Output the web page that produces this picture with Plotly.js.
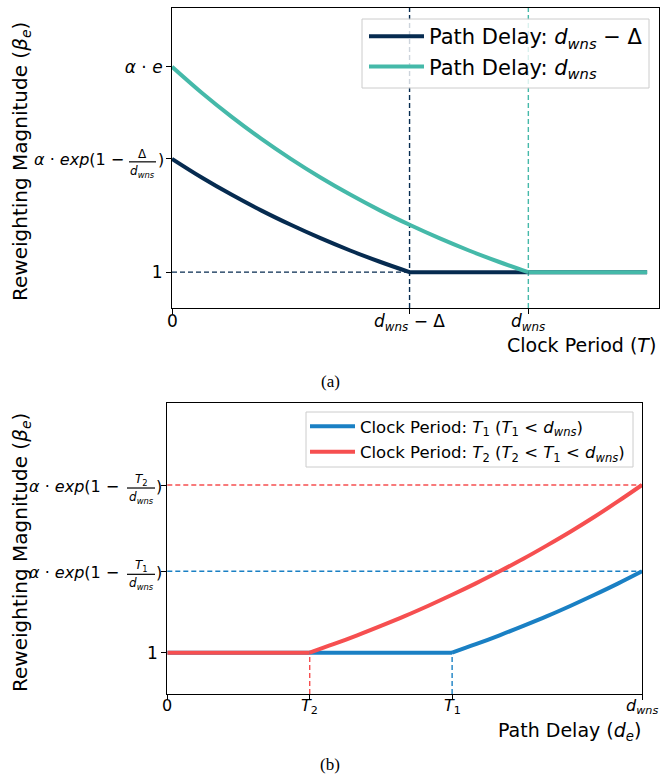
<!DOCTYPE html>
<html>
<head>
<meta charset="utf-8">
<script src="https://cdn.plot.ly/plotly-3.0.1.min.js"></script>
<style>html,body{margin:0;padding:0;background:#fff;}#chart{width:660px;height:778px;}</style>
</head>
<body>
<div id="chart"></div>
<script>
// ---------- Panel (a): reweighting vs clock period ----------
const aTickVals = [0, 2, 3];
const aTickText = ['0', '<i>d</i><sub><i>wns</i></sub> − Δ', '<i>d</i><sub><i>wns</i></sub>'];
const aYTickVals = [1, 1.948, 2.718];
const aYTickText = ['1', '', '<i>α</i> · <i>e</i>'];

// Path delay d_wns − Δ
const darkCurveT    = [0, 0.25, 0.5, 0.75, 1, 1.25, 1.5, 1.75, 2];
const darkCurveBeta = [1.948, 1.792, 1.649, 1.517, 1.396, 1.284, 1.181, 1.087, 1.0];
const darkFlatT     = [2, 4];
const darkFlatBeta  = [1.0, 1.0];
// Path delay d_wns
const tealCurveT    = [0, 0.25, 0.5, 0.75, 1, 1.25, 1.5, 1.75, 2, 2.25, 2.5, 2.75, 3];
const tealCurveBeta = [2.718, 2.501, 2.301, 2.117, 1.948, 1.792, 1.649, 1.517, 1.396, 1.284, 1.181, 1.087, 1.0];
const tealFlatT     = [3, 4];
const tealFlatBeta  = [1.0, 1.0];
// reference markers
const aKneeT = [2, 3];          // d_wns − Δ, d_wns
const aFloorBeta = 1;

// ---------- Panel (b): reweighting vs path delay ----------
const bTickVals = [0, 0.9, 1.8, 3];
const bTickText = ['0', '<i>T</i><sub>2</sub>', '<i>T</i><sub>1</sub>', '<i>d</i><sub><i>wns</i></sub>'];
const bYTickVals = [1, 1.492, 2.014];
const bYTickText = ['1', '', ''];

// Clock period T1
const blueFlatD     = [0, 1.8];
const blueFlatBeta  = [1, 1];
const blueCurveD    = [1.8, 1.95, 2.1, 2.25, 2.4, 2.55, 2.7, 2.85, 3.0];
const blueCurveBeta = [1, 1.051, 1.105, 1.162, 1.221, 1.284, 1.350, 1.419, 1.492];
// Clock period T2
const redFlatD      = [0, 0.9];
const redFlatBeta   = [1, 1];
const redCurveD     = [0.9, 1.05, 1.2, 1.35, 1.5, 1.65, 1.8, 1.95, 2.1, 2.25, 2.4, 2.55, 2.7, 2.85, 3.0];
const redCurveBeta  = [1, 1.051, 1.105, 1.162, 1.221, 1.284, 1.350, 1.419, 1.492, 1.568, 1.649, 1.733, 1.822, 1.916, 2.014];
const bKneeD   = [1.8, 0.9];       // T1, T2
const bLevelBeta = [1.492, 2.014]; // T1 level, T2 level
const bYMin = 0.75;

// ---------- styling ----------
const W = 660, H = 778;
const C_DARK = '#062b50', C_TEAL = '#45b9a9', C_BLUE = '#1a80c4', C_RED = '#f64f50';
const FONT = 'DejaVu Sans, sans-serif';
const px = v => v / W;
const py = v => 1 - v / H;

const LW = 4;
const traces = [
  {x: darkCurveT, y: darkCurveBeta, xaxis: 'x', yaxis: 'y', mode: 'lines', line: {color: C_DARK, width: LW, shape: 'spline', smoothing: 1},
   name: 'Path Delay: <i>d</i><sub><i>wns</i></sub> − Δ', legend: 'legend', legendgroup: 'dark'},
  {x: darkFlatT, y: darkFlatBeta, xaxis: 'x', yaxis: 'y', mode: 'lines', line: {color: C_DARK, width: LW},
   showlegend: false, legend: 'legend', legendgroup: 'dark'},
  {x: tealCurveT, y: tealCurveBeta, xaxis: 'x', yaxis: 'y', mode: 'lines', line: {color: C_TEAL, width: LW, shape: 'spline', smoothing: 1},
   name: 'Path Delay: <i>d</i><sub><i>wns</i></sub>', legend: 'legend', legendgroup: 'teal'},
  {x: tealFlatT, y: tealFlatBeta, xaxis: 'x', yaxis: 'y', mode: 'lines', line: {color: C_TEAL, width: LW},
   showlegend: false, legend: 'legend', legendgroup: 'teal'},

  {x: blueFlatD, y: blueFlatBeta, xaxis: 'x2', yaxis: 'y2', mode: 'lines', line: {color: C_BLUE, width: LW},
   showlegend: false, legend: 'legend2', legendgroup: 'blue'},
  {x: blueCurveD, y: blueCurveBeta, xaxis: 'x2', yaxis: 'y2', mode: 'lines', line: {color: C_BLUE, width: LW, shape: 'spline', smoothing: 1},
   name: 'Clock Period: <i>T</i><sub>1</sub> (<i>T</i><sub>1</sub> < <i>d</i><sub><i>wns</i></sub>)', legend: 'legend2', legendgroup: 'blue'},
  {x: redFlatD, y: redFlatBeta, xaxis: 'x2', yaxis: 'y2', mode: 'lines', line: {color: C_RED, width: LW},
   showlegend: false, legend: 'legend2', legendgroup: 'red'},
  {x: redCurveD, y: redCurveBeta, xaxis: 'x2', yaxis: 'y2', mode: 'lines', line: {color: C_RED, width: LW, shape: 'spline', smoothing: 1},
   name: 'Clock Period: <i>T</i><sub>2</sub> (<i>T</i><sub>2</sub> < <i>T</i><sub>1</sub> < <i>d</i><sub><i>wns</i></sub>)', legend: 'legend2', legendgroup: 'red'}
];

const dash = '5px,3px';
const DW = 1.4;
const shapes = [
  // panel a
  {type: 'line', xref: 'x', yref: 'y', x0: 0, x1: aKneeT[0], y0: aFloorBeta, y1: aFloorBeta, line: {color: C_DARK, width: DW, dash: dash}, layer: 'below'},
  {type: 'line', xref: 'x', yref: 'y domain', x0: aKneeT[0], x1: aKneeT[0], y0: 0, y1: 1, line: {color: C_DARK, width: DW, dash: dash}, layer: 'below'},
  {type: 'line', xref: 'x', yref: 'y domain', x0: aKneeT[1], x1: aKneeT[1], y0: 0, y1: 1, line: {color: C_TEAL, width: DW, dash: dash}, layer: 'below'},
  // panel b
  {type: 'line', xref: 'x2 domain', yref: 'y2', x0: 0, x1: 1, y0: bLevelBeta[0], y1: bLevelBeta[0], line: {color: C_BLUE, width: DW, dash: dash}, layer: 'below'},
  {type: 'line', xref: 'x2 domain', yref: 'y2', x0: 0, x1: 1, y0: bLevelBeta[1], y1: bLevelBeta[1], line: {color: C_RED, width: DW, dash: dash}, layer: 'below'},
  {type: 'line', xref: 'x2', yref: 'y2', x0: bKneeD[0], x1: bKneeD[0], y0: bYMin, y1: 1, line: {color: C_BLUE, width: DW, dash: dash}, layer: 'below'},
  {type: 'line', xref: 'x2', yref: 'y2', x0: bKneeD[1], x1: bKneeD[1], y0: bYMin, y1: 1, line: {color: C_RED, width: DW, dash: dash}, layer: 'below'},
  // legend frames (matplotlib-style, semi-transparent)
  {type: 'rect', xref: 'paper', yref: 'paper', x0: px(362), x1: px(649), y0: py(19), y1: py(88),
   fillcolor: 'rgba(255,255,255,0.8)', line: {color: '#cccccc', width: 1}, layer: 'above'},
  {type: 'rect', xref: 'paper', yref: 'paper', x0: px(306), x1: px(633), y0: py(412), y1: py(467),
   fillcolor: 'rgba(255,255,255,0.8)', line: {color: '#cccccc', width: 1}, layer: 'above'}
];

const annotations = [];
// stacked-fraction tick labels: alpha * exp(1 - num/den)
function fracLabel(yref, yval, mainRight, barL, barR, parenX, num, size) {
  const t = {family: FONT, size: size, color: '#000'};
  const s = {family: FONT, size: 12, color: '#000'};
  annotations.push({xref: 'paper', yref: yref, x: px(mainRight), y: yval, xanchor: 'right', yanchor: 'middle', yshift: -1,
    text: '<i>α</i> · <i>exp</i>(1 −', showarrow: false, font: t});
  annotations.push({xref: 'paper', yref: yref, x: px((barL + barR) / 2), y: yval, xanchor: 'center', yanchor: 'middle', yshift: 5,
    text: num, showarrow: false, font: s});
  annotations.push({xref: 'paper', yref: yref, x: px((barL + barR) / 2), y: yval, xanchor: 'center', yanchor: 'middle', yshift: -13,
    text: '<i>d</i><sub><i>wns</i></sub>', showarrow: false, font: s});
  annotations.push({xref: 'paper', yref: yref, x: px(parenX), y: yval, xanchor: 'center', yanchor: 'middle', yshift: -1,
    text: ')', showarrow: false, font: t});
  shapes.push({type: 'line', xref: 'paper', yref: yref, ysizemode: 'pixel', yanchor: yval,
    x0: px(barL), x1: px(barR), y0: -3, y1: -3, line: {color: '#000', width: 1.2}});
}
fracLabel('y', aYTickVals[1], 126, 129, 156, 161, 'Δ', 16);
fracLabel('y2', bYTickVals[1], 121, 127, 155, 159, '<i>T</i><sub>1</sub>', 16);
fracLabel('y2', bYTickVals[2], 121, 127, 155, 159, '<i>T</i><sub>2</sub>', 16);

// x tick labels placed explicitly under their ticks
aTickVals.forEach((v, i) => annotations.push({xref: 'x', yref: 'paper', x: v, y: py(309), xanchor: 'center', yanchor: 'top',
  showarrow: false, text: aTickText[i], font: {family: FONT, size: 17, color: '#000'}}));
bTickVals.forEach((v, i) => annotations.push({xref: 'x2', yref: 'paper', x: v, y: py(694), xanchor: 'center', yanchor: 'top',
  showarrow: false, text: bTickText[i], font: {family: FONT, size: 16, color: '#000'}}));

// axis titles and captions
const titleFont = {family: FONT, size: 20, color: '#000'};
annotations.push({xref: 'paper', yref: 'paper', x: px(21), y: py(162), xanchor: 'center', yanchor: 'middle', textangle: -90, showarrow: false,
  text: 'Reweighting Magnitude (<i>β</i><sub><i>e</i></sub>)', font: titleFont});
annotations.push({xref: 'paper', yref: 'paper', x: px(21), y: py(553), xanchor: 'center', yanchor: 'middle', textangle: -90, showarrow: false,
  text: 'Reweighting Magnitude (<i>β</i><sub><i>e</i></sub>)', font: titleFont});
annotations.push({xref: 'paper', yref: 'paper', x: px(658), y: py(345), xanchor: 'right', yanchor: 'middle', showarrow: false,
  text: 'Clock Period (<i>T</i>)', font: {family: FONT, size: 19, color: '#000'}});
annotations.push({xref: 'paper', yref: 'paper', x: px(643), y: py(731), xanchor: 'right', yanchor: 'middle', showarrow: false,
  text: 'Path Delay (<i>d</i><sub><i>e</i></sub>)', font: {family: FONT, size: 19, color: '#000'}});
annotations.push({xref: 'paper', yref: 'paper', x: px(330), y: py(381), xanchor: 'center', yanchor: 'middle', showarrow: false,
  text: '(a)', font: {family: 'Liberation Serif, serif', size: 17, color: '#000'}});
annotations.push({xref: 'paper', yref: 'paper', x: px(330), y: py(764), xanchor: 'center', yanchor: 'middle', showarrow: false,
  text: '(b)', font: {family: 'Liberation Serif, serif', size: 17, color: '#000'}});

const axBase = {showline: true, mirror: true, linecolor: '#000', linewidth: 1, showgrid: false, zeroline: false,
  ticks: 'outside', ticklen: 5, tickwidth: 1, tickcolor: '#000', automargin: false, tickmode: 'array'};

const layout = {
  width: W, height: H,
  margin: {l: 0, r: 0, t: 0, b: 0},
  paper_bgcolor: '#fff', plot_bgcolor: '#fff',
  font: {family: FONT, color: '#000'},
  xaxis: Object.assign({}, axBase, {domain: [px(172), px(659)], anchor: 'y', range: [0, 4.1],
    tickvals: aTickVals, showticklabels: false}),
  yaxis: Object.assign({}, axBase, {domain: [py(308), py(8)], anchor: 'x', range: [0.7, 3.21],
    tickvals: aYTickVals, ticktext: aYTickText, tickfont: {size: 17}}),
  xaxis2: Object.assign({}, axBase, {domain: [px(167.3), px(642)], anchor: 'y2', range: [0, 3],
    tickvals: bTickVals, showticklabels: false}),
  yaxis2: Object.assign({}, axBase, {domain: [py(694), py(403)], anchor: 'x2', range: [bYMin, 2.51],
    tickvals: bYTickVals, ticktext: bYTickText, tickfont: {size: 17}}),
  legend: {x: px(364), y: py(16), xanchor: 'left', yanchor: 'top', bgcolor: 'rgba(0,0,0,0)',
    borderwidth: 0, itemwidth: 55, tracegroupgap: 0, font: {family: FONT, size: 21, color: '#000'}},
  legend2: {x: px(305), y: py(409), xanchor: 'left', yanchor: 'top', bgcolor: 'rgba(0,0,0,0)',
    borderwidth: 0, itemwidth: 45, tracegroupgap: 1, font: {family: FONT, size: 16.5, color: '#000'}},
  shapes: shapes,
  annotations: annotations
};

Plotly.newPlot('chart', traces, layout, {displayModeBar: false, staticPlot: true});
</script>
</body>
</html>
